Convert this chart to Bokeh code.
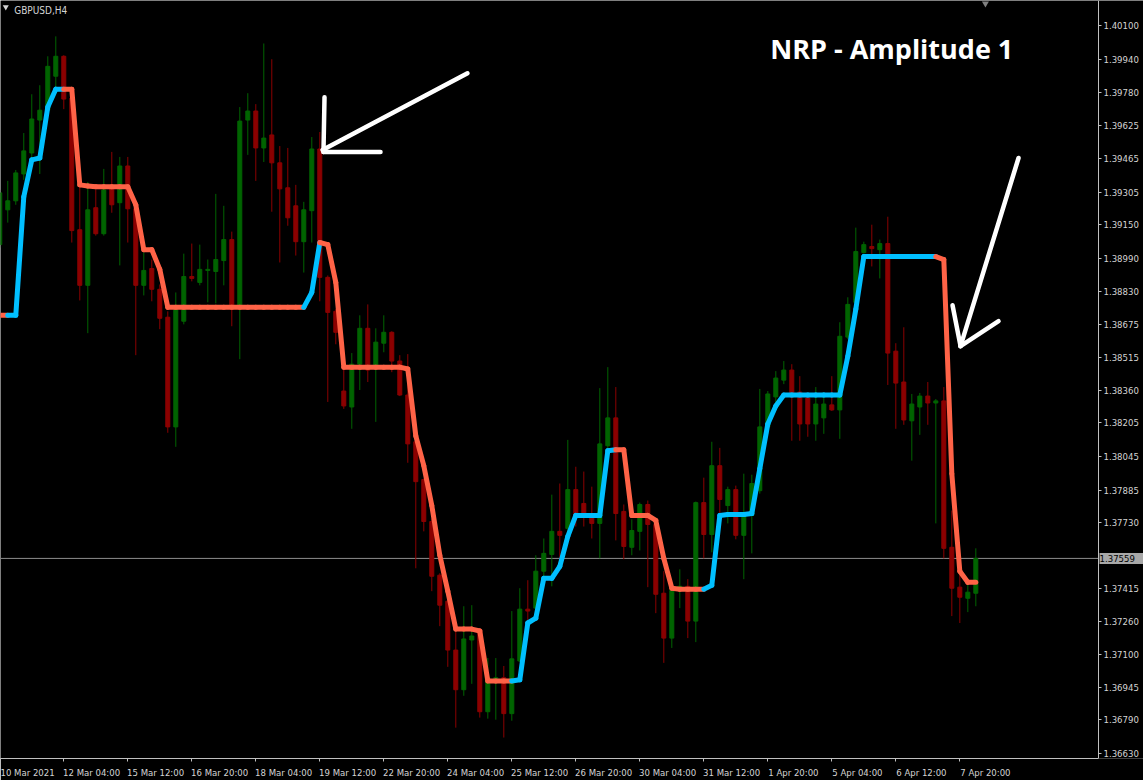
from bokeh.plotting import figure
from bokeh.models import Range1d, FixedTicker, PrintfTickFormatter, Label, ColumnDataSource
from bokeh.embed import file_html
from bokeh.resources import INLINE

# ---------------- data (GBPUSD H4, 10 Mar 2021 20:00 .. 8 Apr 2021 04:00) ----------------
opens = [1.39055, 1.39221, 1.39264, 1.39392, 1.39492, 1.39649, 1.39696, 1.39858, 1.39953, 1.39753,
         1.39126, 1.38861, 1.39231, 1.39107, 1.39331, 1.39255, 1.39430, 1.39226, 1.38861, 1.38941,
         1.38842, 1.38709, 1.38186, 1.38690, 1.38903, 1.38875, 1.38932, 1.38927, 1.38979, 1.39079,
         1.38761, 1.39649, 1.39692, 1.39516, 1.39578, 1.39445, 1.39326, 1.39240, 1.39069, 1.39217,
         1.39511, 1.38899, 1.38737, 1.38357, 1.38281, 1.38485, 1.38656, 1.38476, 1.38585, 1.38637,
         1.38500, 1.38338, 1.38115, 1.37935, 1.37735, 1.37479, 1.37355, 1.37122, 1.36933, 1.37170,
         1.37217, 1.36828, 1.36980, 1.36990, 1.36819, 1.37070, 1.37317, 1.37322, 1.37498, 1.37578,
         1.37688, 1.37702, 1.37887, 1.37821, 1.37764, 1.37726, 1.38096, 1.38229, 1.37783, 1.37612,
         1.37688, 1.37816, 1.37721, 1.37393, 1.37179, 1.37417, 1.37426, 1.37260, 1.37825, 1.37673,
         1.38001, 1.37811, 1.37887, 1.37669, 1.37764, 1.37882, 1.38186, 1.38329, 1.38409, 1.38457,
         1.38352, 1.38324, 1.38200, 1.38229, 1.38291, 1.38267, 1.38614, 1.38780, 1.39017, 1.39046,
         1.39031, 1.39060, 1.38547, 1.38400, 1.38215, 1.38281, 1.38333, 1.38300, 1.38310, 1.37612,
         1.37422, 1.37369, 1.37393]
highs = [1.39316, 1.39359, 1.39411, 1.39587, 1.39772, 1.39815, 1.39953, 1.40048, 1.39958, 1.39768,
         1.39335, 1.39354, 1.39316, 1.39416, 1.39497, 1.39473, 1.39473, 1.39245, 1.39017, 1.38984,
         1.38865, 1.38737, 1.38827, 1.39012, 1.39060, 1.39055, 1.38984, 1.39297, 1.39240, 1.39117,
         1.39711, 1.39777, 1.39725, 1.40014, 1.39939, 1.39525, 1.39516, 1.39340, 1.39259, 1.39568,
         1.39592, 1.38908, 1.38747, 1.38462, 1.38538, 1.38718, 1.38770, 1.38656, 1.38718, 1.38642,
         1.38528, 1.38533, 1.38129, 1.37939, 1.37749, 1.37488, 1.37369, 1.37208, 1.37331, 1.37336,
         1.37227, 1.37084, 1.37084, 1.37046, 1.37308, 1.37417, 1.37455, 1.37574, 1.37654, 1.37863,
         1.37916, 1.38124, 1.37996, 1.37973, 1.37901, 1.38371, 1.38471, 1.38376, 1.37816, 1.37745,
         1.37825, 1.37835, 1.37749, 1.37498, 1.37417, 1.37507, 1.37460, 1.37830, 1.37944, 1.38115,
         1.38086, 1.37901, 1.37906, 1.37963, 1.37958, 1.38367, 1.38357, 1.38452, 1.38500, 1.38485,
         1.38428, 1.38329, 1.38376, 1.38352, 1.38428, 1.38685, 1.38804, 1.39136, 1.39069, 1.39150,
         1.39079, 1.39188, 1.38585, 1.38661, 1.38343, 1.38348, 1.38400, 1.38319, 1.38376, 1.37787,
         1.37512, 1.37441, 1.37607]
lows = [1.39041, 1.39160, 1.39245, 1.39364, 1.39459, 1.39392, 1.39687, 1.39801, 1.39701, 1.39065,
        1.38789, 1.38633, 1.39098, 1.39098, 1.39207, 1.38956, 1.39065, 1.38528, 1.38813, 1.38785,
        1.38652, 1.38158, 1.38091, 1.38675, 1.38880, 1.38861, 1.38780, 1.38775, 1.38861, 1.38666,
        1.38509, 1.39483, 1.39359, 1.39449, 1.39212, 1.38970, 1.39145, 1.39003, 1.38922, 1.39065,
        1.38785, 1.38305, 1.38580, 1.38272, 1.38177, 1.38362, 1.38400, 1.38210, 1.38542, 1.38447,
        1.38333, 1.38015, 1.37512, 1.37688, 1.37403, 1.37236, 1.37042, 1.36752, 1.36904, 1.36961,
        1.36800, 1.36795, 1.36790, 1.36705, 1.36785, 1.37065, 1.37260, 1.37312, 1.37431, 1.37426,
        1.37536, 1.37678, 1.37711, 1.37711, 1.37654, 1.37559, 1.38082, 1.37645, 1.37555, 1.37574,
        1.37597, 1.37422, 1.37298, 1.37061, 1.37132, 1.37322, 1.37179, 1.37160, 1.37559, 1.37588,
        1.37764, 1.37726, 1.37650, 1.37460, 1.37583, 1.37868, 1.38153, 1.38295, 1.38390, 1.38120,
        1.38120, 1.38139, 1.38120, 1.38153, 1.38262, 1.38129, 1.38604, 1.38775, 1.39012, 1.38951,
        1.38894, 1.38386, 1.38177, 1.38196, 1.38025, 1.38148, 1.38196, 1.37726, 1.37559, 1.37284,
        1.37251, 1.37303, 1.37331]
closes = [1.39302, 1.39264, 1.39397, 1.39502, 1.39654, 1.39696, 1.39905, 1.39953, 1.39749, 1.39122,
          1.38861, 1.39221, 1.39107, 1.39316, 1.39245, 1.39430, 1.39226, 1.38861, 1.38932, 1.38842,
          1.38704, 1.38186, 1.38747, 1.38903, 1.38894, 1.38937, 1.38937, 1.38984, 1.39079, 1.38761,
          1.39644, 1.39692, 1.39516, 1.39563, 1.39445, 1.39321, 1.39183, 1.39069, 1.39221, 1.39511,
          1.38899, 1.38732, 1.38637, 1.38286, 1.38485, 1.38656, 1.38457, 1.38590, 1.38637, 1.38500,
          1.38338, 1.38105, 1.37925, 1.37735, 1.37474, 1.37336, 1.37122, 1.36933, 1.37175, 1.37189,
          1.36828, 1.36990, 1.36990, 1.36819, 1.37080, 1.37317, 1.37308, 1.37498, 1.37583, 1.37688,
          1.37669, 1.37887, 1.37764, 1.37764, 1.37726, 1.38105, 1.38229, 1.37773, 1.37616, 1.37692,
          1.37816, 1.37721, 1.37388, 1.37179, 1.37407, 1.37426, 1.37260, 1.37825, 1.37673, 1.38001,
          1.37840, 1.37887, 1.37669, 1.37764, 1.37916, 1.38186, 1.38343, 1.38419, 1.38457, 1.38329,
          1.38200, 1.38200, 1.38295, 1.38295, 1.38267, 1.38618, 1.38770, 1.39022, 1.39055, 1.39036,
          1.39060, 1.38538, 1.38395, 1.38219, 1.38295, 1.38333, 1.38300, 1.38310, 1.37607, 1.37417,
          1.37374, 1.37398, 1.37559]

# NRP indicator line value per bar, and trend of the segment ending at that bar (1 = up/blue, 0 = down/red)
nrp = [1.38718, 1.38718, 1.38718, 1.39283, 1.39459, 1.39468, 1.39711, 1.39796, 1.39796, 1.39796,
       1.39340, 1.39335, 1.39331, 1.39331, 1.39331, 1.39331, 1.39331, 1.39245, 1.39031, 1.39031,
       1.38937, 1.38756, 1.38756, 1.38756, 1.38756, 1.38756, 1.38756, 1.38756, 1.38756, 1.38756,
       1.38756, 1.38756, 1.38756, 1.38756, 1.38756, 1.38756, 1.38756, 1.38756, 1.38756, 1.38827,
       1.39065, 1.39055, 1.38875, 1.38471, 1.38471, 1.38471, 1.38471, 1.38471, 1.38471, 1.38471,
       1.38471, 1.38462, 1.38143, 1.38001, 1.37811, 1.37574, 1.37403, 1.37222, 1.37222, 1.37222,
       1.37213, 1.36975, 1.36975, 1.36975, 1.36975, 1.36980, 1.37251, 1.37274, 1.37464, 1.37464,
       1.37521, 1.37664, 1.37764, 1.37764, 1.37764, 1.37764, 1.38072, 1.38077, 1.38077, 1.37764,
       1.37764, 1.37764, 1.37740, 1.37559, 1.37417, 1.37412, 1.37412, 1.37412, 1.37412, 1.37431,
       1.37764, 1.37768, 1.37768, 1.37768, 1.37773, 1.37987, 1.38200, 1.38286, 1.38338, 1.38338,
       1.38338, 1.38338, 1.38338, 1.38338, 1.38338, 1.38338, 1.38523, 1.38747, 1.38998, 1.38998,
       1.38998, 1.38998, 1.38998, 1.38998, 1.38998, 1.38998, 1.38998, 1.38998, 1.38984, 1.37963,
       1.37498, 1.37445, 1.37445]
nrp_trend = ([0, 0] + [1] * 7 + [0] * 30 + [1] * 2 + [0] * 24 + [1] * 13 + [0] * 11 + [1] * 29 + [0] * 5)

current_price = 1.37559

x_tick_bars = [0, 8, 16, 24, 32, 40, 48, 56, 64, 72, 80, 88, 96, 104, 112, 120]
x_tick_labels = ["10 Mar 2021", "12 Mar 04:00", "15 Mar 12:00", "16 Mar 20:00", "18 Mar 04:00",
                 "19 Mar 12:00", "22 Mar 20:00", "24 Mar 04:00", "25 Mar 12:00", "26 Mar 20:00",
                 "30 Mar 04:00", "31 Mar 12:00", "1 Apr 20:00", "5 Apr 04:00", "6 Apr 12:00",
                 "7 Apr 20:00"]
y_ticks = [1.40100, 1.39940, 1.39780, 1.39625, 1.39465, 1.39305, 1.39150, 1.38990, 1.38830,
           1.38675, 1.38515, 1.38360, 1.38205, 1.38045, 1.37885, 1.37730, 1.37415, 1.37260,
           1.37100, 1.36945, 1.36790, 1.36630]

# hand-drawn white arrows (bar index, price)
arrow_xs = [[58.46, 40.34], [40.59, 40.46], [40.46, 47.59],
            [127.34, 120.09], [119.09, 120.09], [120.09, 124.84]]
arrow_ys = [[1.39872, 1.39506], [1.39758, 1.39497], [1.39497, 1.39497],
            [1.39468, 1.38571], [1.38766, 1.38571], [1.38571, 1.38690]]

title_text = "NRP - Amplitude 1"
symbol_text = "GBPUSD,H4"

# ---------------- layout / styling ----------------
BULL = "#006400"
BEAR = "#8B0000"
UP = "#00BFFF"
DN = "#FF6347"
AXIS = "#c0c0c0"
TXT = "#d4d4d4"
FONT = "DejaVu Sans Condensed"
X_START, X_END = 0.09, 142.96      # visible bar span (chart shift on the right)
PRICE_AXIS_BAR = 137.34            # where the price scale sits
PX_PER_BAR = 8.0
CHAR_W = 4.47                      # approx. width of one axis-label character, px

p = figure(width=1143, height=780,
           x_range=Range1d(X_START, X_END), y_range=Range1d(1.36605, 1.40219),
           y_axis_location="right", output_backend="svg", toolbar_location=None,
           background_fill_color="black", border_fill_color="black",
           min_border_left=0, min_border_top=0, min_border_right=0, min_border_bottom=19,
           outline_line_color=None)
p.grid.visible = False

# current price line (stops at the price scale)
p.segment(x0=[X_START], y0=[current_price], x1=[PRICE_AXIS_BAR], y1=[current_price],
          line_color="#8c8c8c", line_width=1)

n = len(opens)
idx = list(range(n))
colors = [BULL if closes[i] >= opens[i] else BEAR for i in idx]
src = ColumnDataSource(dict(
    x=idx, o=opens, h=highs, l=lows, c=closes, col=colors,
    top=[max(opens[i], closes[i]) for i in idx],
    bot=[min(opens[i], closes[i]) for i in idx]))
p.segment(x0="x", y0="l", x1="x", y1="h", line_color="col", line_width=1, source=src)
p.vbar(x="x", width=0.5, top="top", bottom="bot", fill_color="col", line_color="col",
       line_width=1, source=src)

# NRP line, segment by segment with trend colours
seg = dict(x0=[], y0=[], x1=[], y1=[], col=[])
for i in range(1, n):
    seg["x0"].append(i - 1)
    seg["y0"].append(nrp[i - 1])
    seg["x1"].append(i)
    seg["y1"].append(nrp[i])
    seg["col"].append(UP if nrp_trend[i] == 1 else DN)
p.segment(x0="x0", y0="y0", x1="x1", y1="y1", line_color="col", line_width=5,
          line_cap="round", source=ColumnDataSource(seg))

# white arrows
p.multi_line(xs=arrow_xs, ys=arrow_ys, line_color="white", line_width=4.5, line_cap="round",
             line_join="round")

# time axis: tick marks at the bars (minor), labels to the right of them (major, no mark)
label_pos = [round(b + (1 + CHAR_W * len(t) / 2) / PX_PER_BAR, 3)
             for b, t in zip(x_tick_bars, x_tick_labels)]
xa = p.xaxis[0]
xa.ticker = FixedTicker(ticks=label_pos, minor_ticks=x_tick_bars)
xa.major_label_overrides = {pos: t for pos, t in zip(label_pos, x_tick_labels)}
xa.major_tick_line_color = None
xa.minor_tick_line_color = AXIS
xa.minor_tick_out = 3
xa.minor_tick_in = 0
xa.major_label_standoff = 2
xa.bounds = (X_START, PRICE_AXIS_BAR)

# price axis
ya = p.yaxis[0]
ya.fixed_location = PRICE_AXIS_BAR
ya.ticker = FixedTicker(ticks=y_ticks)
ya.formatter = PrintfTickFormatter(format="%.5f")
ya.major_label_standoff = 2
ya.major_tick_line_color = AXIS
ya.major_tick_out = 3
ya.major_tick_in = 0
ya.minor_tick_line_color = None
for ax in (xa, ya):
    ax.axis_line_color = AXIS
    ax.major_label_text_color = TXT
    ax.major_label_text_font = FONT
    ax.major_label_text_font_size = "9.5px"

# texts
p.add_layout(Label(x=96.3, y=1.39991, text=title_text, text_color="white",
                   text_font="Open Sans", text_font_style="bold", text_font_size="27px",
                   text_baseline="alphabetic"))
p.add_layout(Label(x=1.8, y=1.40171, text=symbol_text, text_color=TXT, text_font=FONT,
                   text_font_size="10px", text_baseline="alphabetic"))
p.scatter(x=[0.75], y=[1.40188], marker="inverted_triangle", size=6, fill_color=TXT,
          line_color=None)
p.scatter(x=[123.2], y=[1.40205], marker="inverted_triangle", size=7, fill_color="#808080",
          line_color=None)
# current price tag on the price scale
p.add_layout(Label(x=PRICE_AXIS_BAR, y=current_price, x_offset=1, text=" 1.37559  ",
                   text_color="black", text_font=FONT, text_font_size="9.5px",
                   text_baseline="middle", background_fill_color="#a8a8a8"))

open("out.html", "w").write(file_html(p, INLINE))
